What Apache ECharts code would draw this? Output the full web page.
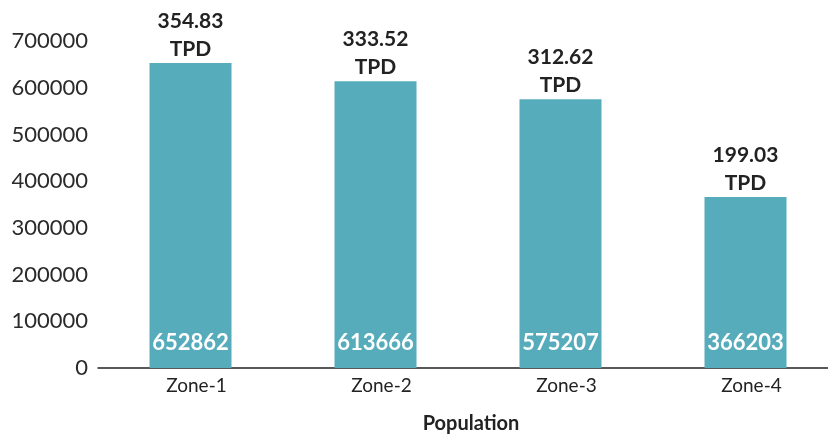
<!DOCTYPE html>
<html>
<head>
<meta charset="utf-8">
<script src="https://cdn.jsdelivr.net/npm/echarts@6/dist/echarts.min.js"></script>
<style>
html, body { margin: 0; padding: 0; background: #fff; }
#chart { width: 828px; height: 435px; }
</style>
</head>
<body>
<div id="chart"></div>
<script>
var zones = ['Zone-1', 'Zone-2', 'Zone-3', 'Zone-4'];
var population = [652862, 613666, 575207, 366203];
var tpd = ['354.83', '333.52', '312.62', '199.03'];

var font = 'Lato';

var chart = echarts.init(document.getElementById('chart'));
chart.setOption({
    animation: false,
    grid: { left: 98, right: -10, top: 41, bottom: 67, containLabel: false, outerBoundsMode: 'none' },
    xAxis: {
        type: 'category',
        data: zones,
        name: 'Population',
        nameLocation: 'middle',
        nameGap: 46,
        nameTextStyle: { fontFamily: font, fontSize: 20, fontWeight: 'bold', color: '#222', padding: [0, 0, 0, 6] },
        axisLine: { lineStyle: { color: '#222', width: 1.5 } },
        axisTick: { show: false },
        axisLabel: { fontFamily: font, fontSize: 19, color: '#222', margin: 8, padding: [0, 0, 0, 12] }
    },
    yAxis: {
        type: 'value',
        min: 0,
        max: 700000,
        interval: 100000,
        splitLine: { show: false },
        axisLine: { show: false },
        axisTick: { show: false },
        axisLabel: {
            fontFamily: font, fontSize: 22, color: '#2a2a2a', margin: 10,
            formatter: function (v) { return String(v); }
        }
    },
    series: [
        {
            type: 'bar',
            data: population,
            barWidth: 82,
            itemStyle: { color: '#57acbc' },
            label: {
                show: true,
                position: 'insideBottom',
                distance: 14,
                fontFamily: font,
                fontSize: 22,
                fontWeight: 'bold',
                color: '#fff'
            }
        },
        {
            type: 'bar',
            data: population,
            barGap: '-100%',
            barWidth: 82,
            itemStyle: { color: 'transparent' },
            silent: true,
            label: {
                show: true,
                position: 'top',
                distance: 0,
                fontFamily: font,
                fontSize: 21,
                fontWeight: 'bold',
                color: '#222',
                lineHeight: 28,
                formatter: function (p) { return tpd[p.dataIndex] + '\nTPD'; }
            }
        }
    ]
});
</script>
</body>
</html>
